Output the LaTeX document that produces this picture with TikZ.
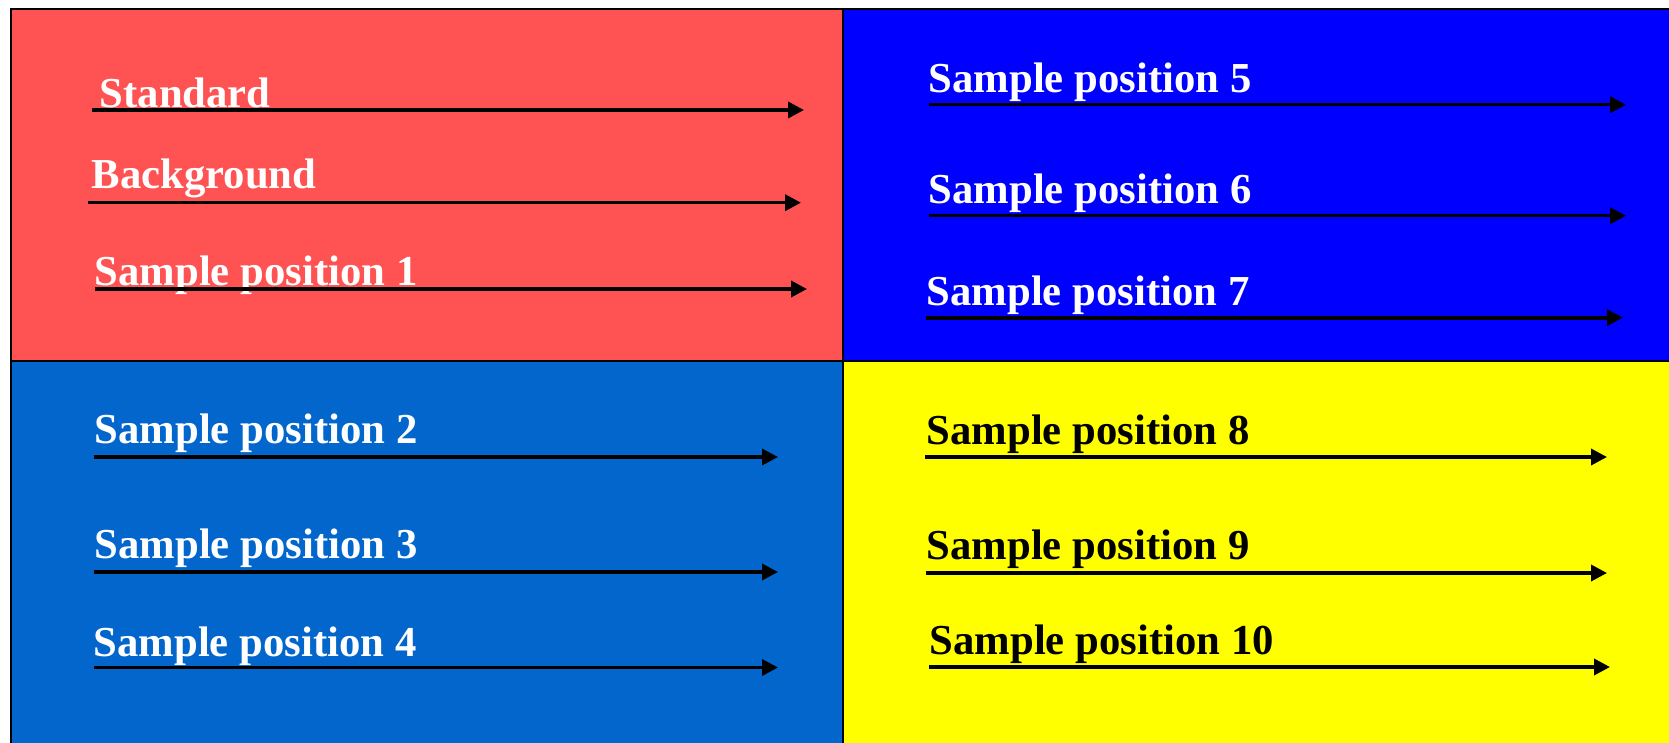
\documentclass[tikz,border=0pt]{standalone}
\usepackage{fontspec}
\setmainfont{Liberation Serif}
\usetikzlibrary{arrows.meta}
\definecolor{panelred}{RGB}{255,82,82}
\definecolor{panelblue}{RGB}{0,0,255}
\definecolor{panelmid}{RGB}{3,102,204}
\definecolor{panelyellow}{RGB}{255,255,0}
\tikzset{
  lbl/.style={anchor=base west, inner sep=0pt, font=\fontsize{42.7}{50}\selectfont\bfseries},
  wlbl/.style={lbl, text=white},
  klbl/.style={lbl, text=black},
  arr/.style={line width=3.6pt, -{Triangle[length=16pt,width=16pt]}},
  panel/.style={draw=black, line width=2pt}
}
\begin{document}
\begin{tikzpicture}[x=1pt,y=-1pt]
\useasboundingbox (0,0) rectangle (1669,743);
\clip (0,0) rectangle (1669,743);
\fill[white] (0,0) rectangle (1669,743);
% panels
\filldraw[panel, fill=panelred] (11,9) rectangle (843,360.5);
\filldraw[panel, fill=panelblue] (843,9) rectangle (1680,360.5);
\filldraw[panel, fill=panelmid] (11,360.5) rectangle (843,760);
\filldraw[panel, fill=panelyellow] (843,360.5) rectangle (1680,760);
% red panel
\node[wlbl] (tstd) at (99.5,108) {Standard};
\node[wlbl] (tbg) at (91.5,188.3) {Background};
\node[wlbl] (t1) at (94.5,285) {Sample position 1};
\coordinate (s0) at (92,110); \coordinate (e0) at (804,110);
\coordinate (sb) at (88,202.7); \coordinate (eb) at (801,202.7);
\coordinate (s1) at (95,289); \coordinate (e1) at (807,289);
\draw[arr] (s0) -- (e0);
\draw[arr] (sb) -- (eb);
\draw[arr] (s1) -- (e1);
% blue panel
\node[wlbl] (t5) at (928.5,92.7) {Sample position 5};
\node[wlbl] (t6) at (928.5,203.3) {Sample position 6};
\node[wlbl] (t7) at (926.5,305) {Sample position 7};
\coordinate (s5) at (929,104.7); \coordinate (e5) at (1626,104.7);
\coordinate (s6) at (929,215.7); \coordinate (e6) at (1626,215.7);
\coordinate (s7) at (926,317.7); \coordinate (e7) at (1623,317.7);
\draw[arr] (s5) -- (e5);
\draw[arr] (s6) -- (e6);
\draw[arr] (s7) -- (e7);
% mid-blue panel
\node[wlbl] (t2) at (94.5,443.5) {Sample position 2};
\node[wlbl] (t3) at (94.5,558.5) {Sample position 3};
\node[wlbl] (t4) at (93.5,656) {Sample position 4};
\coordinate (s2) at (94,457); \coordinate (e2) at (778,457);
\coordinate (s3) at (94,572); \coordinate (e3) at (778,572);
\coordinate (s4) at (94,667.5); \coordinate (e4) at (778,667.5);
\draw[arr] (s2) -- (e2);
\draw[arr] (s3) -- (e3);
\draw[arr] (s4) -- (e4);
% yellow panel
\node[klbl] (t8) at (926.5,444) {Sample position 8};
\node[klbl] (t9) at (926.5,559) {Sample position 9};
\node[klbl] (t10) at (929.5,654) {Sample position 10};
\coordinate (s8) at (925,457); \coordinate (e8) at (1607,457);
\coordinate (s9) at (926,573); \coordinate (e9) at (1607,573);
\coordinate (s10) at (929,667); \coordinate (e10) at (1610,667);
\draw[arr] (s8) -- (e8);
\draw[arr] (s9) -- (e9);
\draw[arr] (s10) -- (e10);
\end{tikzpicture}
\end{document}
